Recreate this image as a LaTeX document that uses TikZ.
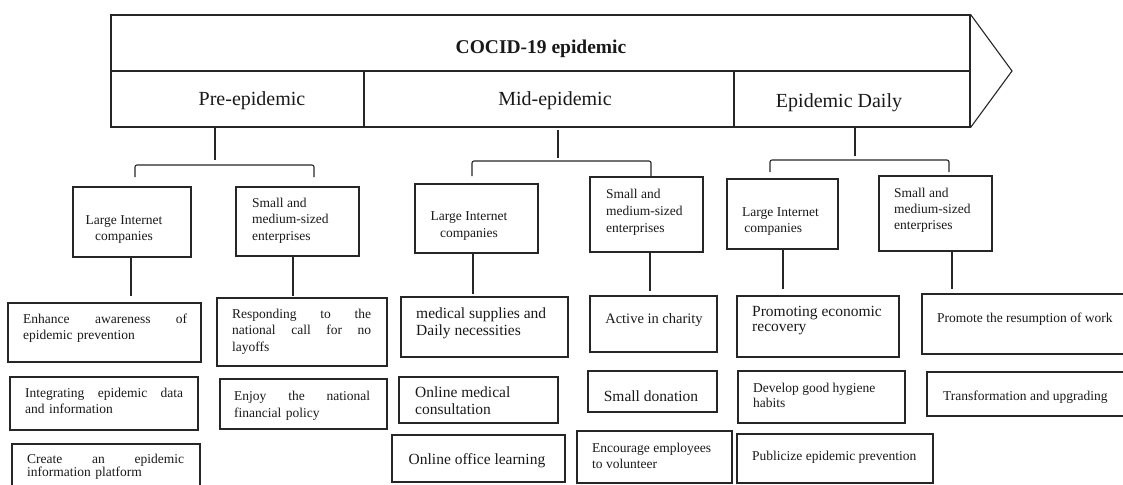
\documentclass[tikz,border=0pt]{standalone}
\usepackage{fontspec}
\setmainfont{Liberation Serif}
\begin{document}
\begin{tikzpicture}[x=1pt,y=-1pt,
  box/.style={draw=black!85, line width=1.1pt, inner sep=0pt, rectangle},
  conn/.style={draw=black!85, line width=1.1pt},
  ts/.style={inner sep=0pt, font=\fontsize{13.5}{16}\selectfont, align=left, text=black!90},
  tm/.style={inner sep=0pt, font=\fontsize{15.5}{17}\selectfont, align=left, text=black!90},
  th/.style={inner sep=0pt, font=\fontsize{20}{22}\selectfont, text=black!90}]
\useasboundingbox (0,0) rectangle (1123,484);

% header
\node[box, minimum width=859pt, minimum height=56pt] (hdr) at (540.5,43) {};
\node[box, minimum width=253pt, minimum height=56pt] (pre) at (237.5,99) {};
\node[box, minimum width=370pt, minimum height=56pt] (mid) at (549,99) {};
\node[box, minimum width=236pt, minimum height=56pt] (daily) at (852,99) {};
\coordinate (tip) at (1012,71);
\draw[conn, line join=miter] (hdr.north east) -- (tip) -- (daily.south east);
\draw[conn, line width=1.6pt] (hdr.north east) -- (daily.south east);
\node[th, font=\fontsize{19.5}{22}\selectfont\bfseries, anchor=base] (title) at (541,54) {COCID-19 epidemic};
\node[th, anchor=base] (pret) at (252,106) {Pre-epidemic};
\node[th, anchor=base] (midt) at (555,106) {Mid-epidemic};
\node[th, anchor=base] (dailyt) at (839,107) {Epidemic Daily};

% stubs from phases
\draw[conn] ([xshift=-22.5pt]pre.south) -- ++(0,32);
\draw[conn] ([xshift=9pt,yshift=-2pt]mid.south) -- ++(0,28);
\draw[conn] ([xshift=3pt]daily.south) -- ++(0,28);

% brackets
\coordinate (preL) at (135,177); \coordinate (preR) at (314,177);
\coordinate (midL) at (472,176); \coordinate (midR) at (651,176);
\coordinate (epiL) at (770,172); \coordinate (epiR) at (949,172);
\draw[conn, rounded corners=2pt] (preL) -- ++(0,-12) -| (preR);
\draw[conn, rounded corners=2pt] (midL) -- ++(0,-15) -| (midR);
\draw[conn, rounded corners=2pt] (epiL) -- ++(0,-12) -| (epiR);

% level 2 boxes
\node[box, minimum width=118pt, minimum height=70pt] (pl) at (132,222) {};
\node[box, minimum width=123pt, minimum height=69pt] (ps) at (297.5,221.5) {};
\node[box, minimum width=123pt, minimum height=69pt] (ml) at (476.5,218.5) {};
\node[box, minimum width=113pt, minimum height=75pt] (ms) at (646.5,214.5) {};
\node[box, minimum width=111pt, minimum height=70pt] (el) at (782.5,214) {};
\node[box, minimum width=113pt, minimum height=75pt] (es) at (935.5,213.5) {};

\node[ts, align=center, anchor=north] (plt) at (124,215.8) {Large Internet\\companies};
\node[ts, font=\fontsize{13.5}{16.5}\selectfont, anchor=north west] (pst) at (252,197.8) {Small and\\medium-sized\\enterprises};
\node[ts, font=\fontsize{13.5}{17}\selectfont, align=center, anchor=north] (mlt) at (469,211.8) {Large Internet\\companies};
\node[ts, font=\fontsize{13.5}{17}\selectfont, anchor=north west] (mst) at (606,188.8) {Small and\\medium-sized\\enterprises};
\node[ts, anchor=north west] (elt) at (742,207.8) {Large Internet\\\,companies};
\node[ts, anchor=north west] (est) at (894,187.8) {Small and\\medium-sized\\enterprises};

% stubs level 2 -> 3
\draw[conn] ([xshift=-1pt]pl.south) -- ++(0,38);
\draw[conn] ([xshift=-4.5pt]ps.south) -- ++(0,39);
\draw[conn] ([xshift=-3.5pt]ml.south) -- ++(0,40);
\draw[conn] ([xshift=3.5pt]ms.south) -- ++(0,38);
\draw[conn] ([xshift=0.5pt]el.south) -- ++(0,39);
\draw[conn] ([xshift=16.5pt]es.south) -- ++(0,37);

% level 3 boxes
\node[box, minimum width=193pt, minimum height=59pt] (p1) at (104.5,332.5) {};
\node[box, minimum width=188pt, minimum height=53pt] (p2) at (104,403.5) {};
\node[box, minimum width=188pt, minimum height=48pt] (p3) at (106,468) {};
\node[box, minimum width=170pt, minimum height=68pt] (q1) at (302,332) {};
\node[box, minimum width=167pt, minimum height=50pt] (q2) at (303.5,404) {};
\node[box, minimum width=167pt, minimum height=60pt] (m1) at (484.5,327) {};
\node[box, minimum width=159pt, minimum height=46pt] (m2) at (478.5,400) {};
\node[box, minimum width=173pt, minimum height=47pt] (m3) at (478.5,458.5) {};
\node[box, minimum width=127pt, minimum height=56pt] (s1) at (653.5,324) {};
\node[box, minimum width=129pt, minimum height=41pt] (s2) at (652.5,391.5) {};
\node[box, minimum width=155pt, minimum height=52pt] (s3) at (654.5,457) {};
\node[box, minimum width=162pt, minimum height=61pt] (e1) at (818,326.5) {};
\node[box, minimum width=167pt, minimum height=52pt] (e2) at (821.5,397) {};
\node[box, minimum width=196pt, minimum height=49pt] (e3) at (835,458.5) {};
\node[box, minimum width=208pt, minimum height=60pt] (f1) at (1026,324) {};
\node[box, minimum width=203pt, minimum height=44pt] (f2) at (1028.5,394) {};

% level 3 texts
\node[ts, text width=164pt, anchor=north west] (p1t) at (23,313.8) {Enhance\hfill awareness\hfill of\\epidemic prevention};
\node[ts, text width=158pt, anchor=north west] (p2t) at (25,387.8) {Integrating\hfill epidemic\hfill data\\and information};
\node[ts, font=\fontsize{13.5}{13.5}\selectfont, text width=157pt, anchor=north west] (p3t) at (27,453.8) {Create\hfill an\hfill epidemic\\information platform};
\node[ts, font=\fontsize{13.5}{16.5}\selectfont, text width=139pt, anchor=north west] (q1t) at (232,308.8) {Responding\hfill to\hfill the\\national\hfill call\hfill for\hfill no\\layoffs};
\node[ts, font=\fontsize{13.5}{17}\selectfont, text width=136pt, anchor=north west] (q2t) at (234,390.8) {Enjoy\hfill the\hfill national\\financial policy};
\node[tm, anchor=north west] (m1t) at (416,307.5) {medical supplies and\\Daily necessities};
\node[tm, anchor=north west] (m2t) at (415,386.5) {Online medical\\consultation};
\node[tm, anchor=base] (m3t) at (477,464) {Online office learning};
\node[tm, font=\fontsize{14.5}{17}\selectfont, anchor=base] (s1t) at (654,323) {Active in charity};
\node[tm, anchor=base] (s2t) at (651,401) {Small donation};
\node[ts, anchor=north west] (s3t) at (592,442.8) {Encourage employees\\to volunteer};
\node[tm, font=\fontsize{15.5}{15}\selectfont, anchor=north west] (e1t) at (752,306.5) {Promoting economic\\recovery};
\node[ts, font=\fontsize{13.5}{15}\selectfont, anchor=north west] (e2t) at (753,382.8) {Develop good hygiene\\habits};
\node[ts, anchor=base west] (e3t) at (752,460) {Publicize epidemic prevention};
\node[ts, anchor=base west] (f1t) at (937,322) {Promote the resumption of work};
\node[ts, anchor=base west] (f2t) at (943,400) {Transformation and upgrading};
\end{tikzpicture}
\end{document}
